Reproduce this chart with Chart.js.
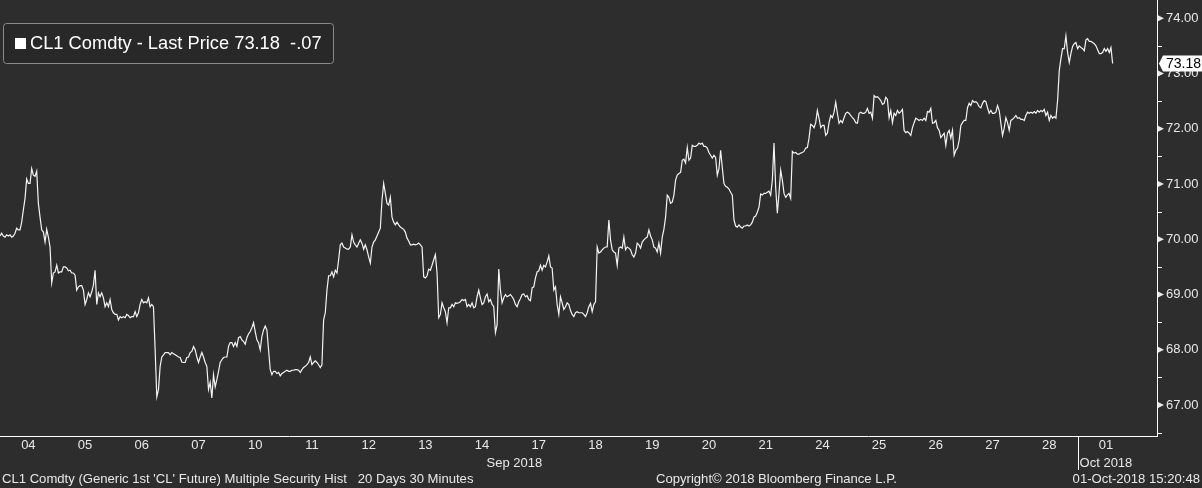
<!DOCTYPE html>
<html><head><meta charset="utf-8">
<script src="https://cdn.jsdelivr.net/npm/chart.js@4/dist/chart.umd.min.js"></script>
<style>html,body{margin:0;padding:0;background:#2d2d2d;overflow:hidden}canvas{display:block}</style>
</head><body>
<canvas id="c" width="1202" height="488"></canvas>
<script>
const SAMPLES_PER_DAY = 34;
const dayLabels = ['04','05','06','07','10','11','12','13','14','17','18','19','20','21','24','25','26','27','28','01'];
const monthLabels = ['Sep 2018', 'Oct 2018'];
const monthCenters = [9.07, 19.5];
const monthBreaks = [19];
const priceTicks = [67, 68, 69, 70, 71, 72, 73, 74];
const prices = [
70.06,70.11,70.06,70.04,70.08,70.06,70.08,70.04,70.06,70.11,
70.20,70.17,70.17,70.31,70.53,70.74,71.09,71.01,71.01,71.28,
71.16,71.14,71.23,70.65,70.40,70.17,70.13,69.95,70.18,70.04,
69.86,69.21,69.39,69.41,69.53,69.39,69.41,69.41,69.50,69.50,
69.48,69.43,69.44,69.39,69.39,69.35,69.08,69.14,69.16,69.16,
69.08,68.82,68.91,69.03,68.96,69.05,69.17,69.44,68.82,69.03,
68.96,69.03,68.94,68.78,68.85,68.78,68.91,68.73,68.67,68.64,
68.64,68.54,68.60,68.58,68.60,68.58,68.64,68.62,68.58,68.60,
68.60,68.69,68.60,68.67,68.82,68.91,68.85,68.87,68.85,68.94,
68.78,68.82,68.78,68.00,67.15,67.28,67.70,67.87,67.91,67.95,
67.95,67.95,67.91,67.95,67.93,67.91,67.89,67.87,67.86,67.78,
67.77,67.77,67.86,67.87,67.95,67.97,68.06,68.00,67.87,67.77,
67.87,67.95,67.87,67.77,67.70,67.28,67.41,67.13,67.55,67.33,
67.46,67.61,67.77,67.82,67.86,67.87,67.87,68.06,68.13,68.13,
68.06,68.13,68.06,68.22,68.24,68.18,68.15,68.10,68.22,68.29,
68.33,68.40,68.49,68.33,68.18,68.13,68.00,68.24,68.36,68.43,
68.36,68.00,67.64,67.55,67.61,67.61,67.57,67.59,67.53,67.57,
67.59,67.61,67.63,67.61,67.61,67.63,67.63,67.64,67.64,67.63,
67.59,67.64,67.68,67.70,67.73,67.77,67.87,67.73,67.77,67.80,
67.77,67.73,67.68,67.73,68.54,68.67,69.08,69.34,69.34,69.41,
69.32,69.44,69.39,69.63,69.90,69.93,69.86,69.84,69.82,69.82,
69.86,70.08,69.95,69.90,69.86,69.93,69.99,69.93,69.82,69.90,
69.81,69.68,69.57,69.86,69.95,69.99,70.06,70.13,70.20,70.71,
71.01,70.83,70.65,70.62,70.76,70.40,70.31,70.26,70.31,70.26,
70.22,70.20,70.18,70.13,70.02,69.97,69.90,69.90,69.91,69.90,
69.91,69.93,69.90,69.86,69.32,69.30,69.34,69.46,69.44,69.53,
69.63,69.72,69.39,68.58,68.64,68.85,68.76,68.69,68.49,68.76,
68.76,68.82,68.78,68.85,68.84,68.85,68.87,68.91,68.89,68.91,
68.78,68.82,68.78,68.85,68.76,68.78,68.96,69.08,68.94,68.82,
68.85,68.96,69.01,68.87,68.91,68.82,68.78,68.31,68.45,69.46,
69.08,68.85,68.94,69.00,68.96,68.98,69.00,68.96,68.91,68.82,
68.78,68.87,68.93,69.00,69.01,68.96,68.98,68.91,68.89,69.12,
69.14,69.30,69.41,69.43,69.53,69.44,69.53,69.50,69.59,69.70,
69.50,69.48,69.08,69.14,68.82,68.64,68.96,68.85,68.73,68.78,
68.85,68.82,68.71,68.64,68.60,68.67,68.69,68.67,68.67,68.67,
68.64,68.60,68.67,68.78,68.84,68.69,68.82,68.87,69.86,69.75,
69.77,69.81,69.84,69.86,69.86,70.35,69.99,69.81,69.77,69.75,
69.53,69.84,69.86,69.84,70.04,69.81,69.86,69.84,69.81,69.72,
69.68,69.75,69.93,69.90,69.84,69.95,69.99,70.02,70.04,70.17,
70.06,69.99,69.86,69.84,69.77,69.93,69.75,70.04,70.18,70.40,
70.80,70.76,70.65,70.67,70.80,71.07,71.16,71.19,71.21,71.43,
71.45,71.38,71.66,71.43,71.47,71.70,71.68,71.68,71.70,71.74,
71.72,71.74,71.68,71.68,71.65,71.57,71.52,71.47,71.52,71.48,
71.16,71.28,71.61,71.30,71.01,70.96,70.94,70.91,70.85,70.80,
70.35,70.24,70.22,70.26,70.22,70.20,70.24,70.24,70.26,70.24,
70.26,70.31,70.40,70.42,70.49,70.58,70.82,70.80,70.83,70.83,
70.85,70.87,70.80,71.07,71.74,70.94,70.47,70.83,71.25,71.07,
70.83,70.76,70.80,70.83,70.74,71.59,71.56,71.57,71.54,71.54,
71.56,71.57,71.59,71.65,71.66,71.83,72.08,72.06,72.02,72.11,
72.33,72.19,72.02,72.06,72.06,71.88,71.92,72.11,72.24,72.20,
72.30,72.48,72.28,72.10,72.15,72.11,72.20,72.28,72.30,72.28,
72.24,72.20,72.17,72.11,72.10,72.28,72.30,72.28,72.28,72.30,
72.37,72.28,72.30,72.19,72.60,72.57,72.58,72.55,72.51,72.44,
72.46,72.57,72.53,72.20,72.33,72.11,72.28,72.24,72.33,72.28,
72.31,72.35,71.97,71.93,71.95,71.92,71.88,72.02,72.11,72.19,
72.17,72.15,72.17,72.15,72.19,72.15,72.31,72.30,72.37,72.10,
72.11,72.15,72.02,71.97,71.84,71.88,71.92,71.70,71.92,71.97,
71.83,71.97,71.52,71.61,71.65,71.79,72.06,72.11,72.15,72.15,
72.38,72.46,72.42,72.51,72.48,72.49,72.46,72.40,72.38,72.46,
72.51,72.49,72.38,72.28,72.33,72.28,72.28,72.30,72.42,72.33,
72.10,71.88,72.01,72.20,72.11,71.97,72.15,72.17,72.20,72.24,
72.19,72.20,72.17,72.17,72.15,72.24,72.30,72.28,72.30,72.28,
72.31,72.28,72.33,72.30,72.33,72.31,72.35,72.24,72.30,72.15,
72.24,72.19,72.22,72.19,72.51,73.05,73.27,73.45,73.45,73.68,
73.38,73.20,73.36,73.49,73.54,73.56,73.45,73.50,73.47,73.45,
73.41,73.61,73.63,73.58,73.58,73.56,73.54,73.50,73.43,73.36,
73.36,73.38,73.45,73.40,73.45,73.38,73.47,73.18
];
const seriesName = 'CL1 Comdty - Last Price';
const lastPrice = 73.18;
const netChange = '-.07';
const footerLeft = "CL1 Comdty (Generic 1st 'CL' Future) Multiple Security Hist   20 Days 30 Minutes";
const footerMid = 'Copyright\u00a9 2018 Bloomberg Finance L.P.';
const footerRight = '01-Oct-2018 15:20:48';

const X_MAX = 20.4;
const Y_MIN = 66.44, Y_MAX = 74.33;
const BG = '#2d2d2d';
const FG = '#e8e8e8';
const FONT = "'Liberation Sans', Arial, sans-serif";
Chart.defaults.font.family = FONT;

const bgPlugin = {
  id: 'bg',
  beforeDraw(chart) {
    const c = chart.ctx;
    c.save(); c.fillStyle = BG; c.fillRect(0, 0, chart.width, chart.height); c.restore();
  }
};

const decorPlugin = {
  id: 'decor',
  afterDraw(chart) {
    const c = chart.ctx, xs = chart.scales.x, ys = chart.scales.y, ca = chart.chartArea;
    c.save();
    // y axis markers
    c.fillStyle = FG;
    priceTicks.forEach(v => {
      const py = ys.getPixelForValue(v);
      c.beginPath();
      c.moveTo(ca.right + 1, py - 3);
      c.lineTo(ca.right + 7, py);
      c.lineTo(ca.right + 1, py + 3);
      c.closePath();
      c.fill();
    });
    c.strokeStyle = '#ffffff'; c.lineWidth = 1;
    for (let v = priceTicks[0] - 0.5; v <= priceTicks[priceTicks.length - 1] + 0.5; v += 1) {
      if (v < Y_MIN || v > Y_MAX) continue;
      const py = Math.round(ys.getPixelForValue(v)) + 0.5;
      c.beginPath(); c.moveTo(ca.right, py); c.lineTo(ca.right + 5, py); c.stroke();
    }
    // month separators and labels
    monthBreaks.forEach(b => {
      const px = Math.round(xs.getPixelForValue(b)) + 0.5;
      c.beginPath(); c.moveTo(px, ca.bottom); c.lineTo(px, ca.bottom + 34); c.stroke();
    });
    c.fillStyle = FG; c.font = '13px ' + FONT; c.textAlign = 'center'; c.textBaseline = 'middle';
    monthLabels.forEach((m, i) => c.fillText(m, xs.getPixelForValue(monthCenters[i]), ca.bottom + 27));
    // footer
    c.font = '13.1px ' + FONT;
    c.textAlign = 'left'; c.fillText(footerLeft, 2, 479);
    c.textAlign = 'left'; c.fillText(footerMid, 656, 479);
    c.textAlign = 'right'; c.fillText(footerRight, 1200, 479);
    // legend box
    c.beginPath();
    c.roundRect(3.5, 23.5, 330, 40, 3);
    c.fillStyle = '#282828'; c.fill();
    c.strokeStyle = '#8a8a8a'; c.stroke();
    c.fillStyle = '#ffffff';
    c.fillRect(15, 38, 11, 11);
    c.font = '18.3px ' + FONT; c.textAlign = 'left'; c.textBaseline = 'middle';
    c.fillText(seriesName + ' ' + lastPrice.toFixed(2) + '  ' + netChange, 30, 44);
    // last price tag
    const ty = ys.getPixelForValue(lastPrice);
    c.beginPath();
    c.moveTo(ca.right + 2, ty);
    c.lineTo(ca.right + 6, ty - 8);
    c.lineTo(chart.width, ty - 8);
    c.lineTo(chart.width, ty + 8);
    c.lineTo(ca.right + 6, ty + 8);
    c.closePath();
    c.fillStyle = '#ffffff'; c.fill();
    c.fillStyle = '#000000'; c.font = '14px ' + FONT; c.textAlign = 'left';
    c.fillText(lastPrice.toFixed(2), ca.right + 9, ty + 0.5);
    c.restore();
  }
};

const points = prices.map((p, i) => ({ x: i / SAMPLES_PER_DAY, y: p }));

new Chart(document.getElementById('c').getContext('2d'), {
  type: 'line',
  data: { datasets: [{ data: points, borderColor: '#f4f4f4', borderWidth: 1.2, pointRadius: 0, tension: 0, fill: false }] },
  options: {
    responsive: false, animation: false, events: [],
    layout: { padding: 0 },
    plugins: { legend: { display: false }, tooltip: { enabled: false } },
    scales: {
      x: {
        type: 'linear', min: 0, max: X_MAX, position: 'bottom',
        afterBuildTicks: s => { s.ticks = dayLabels.map((_, i) => ({ value: i + 0.5 })); },
        afterFit: s => { s.height = 52; s.paddingLeft = 0; s.paddingRight = 0; },
        ticks: { autoSkip: false, maxRotation: 0, padding: 2, color: FG, font: { size: 13 }, callback: (v, i) => dayLabels[i] },
        grid: { display: true, drawOnChartArea: false, drawTicks: false },
        border: { display: true, color: '#ffffff', width: 1 }
      },
      y: {
        position: 'right', min: Y_MIN, max: Y_MAX,
        afterBuildTicks: s => { s.ticks = priceTicks.map(v => ({ value: v })); },
        afterFit: s => { s.width = 45; s.paddingTop = 0; s.paddingBottom = 0; },
        ticks: { padding: 9, color: FG, font: { size: 13 }, callback: v => Number(v).toFixed(2) },
        grid: { display: true, drawOnChartArea: false, drawTicks: false },
        border: { display: true, color: '#ffffff', width: 1 }
      }
    }
  },
  plugins: [bgPlugin, decorPlugin]
});
</script>
</body></html>
